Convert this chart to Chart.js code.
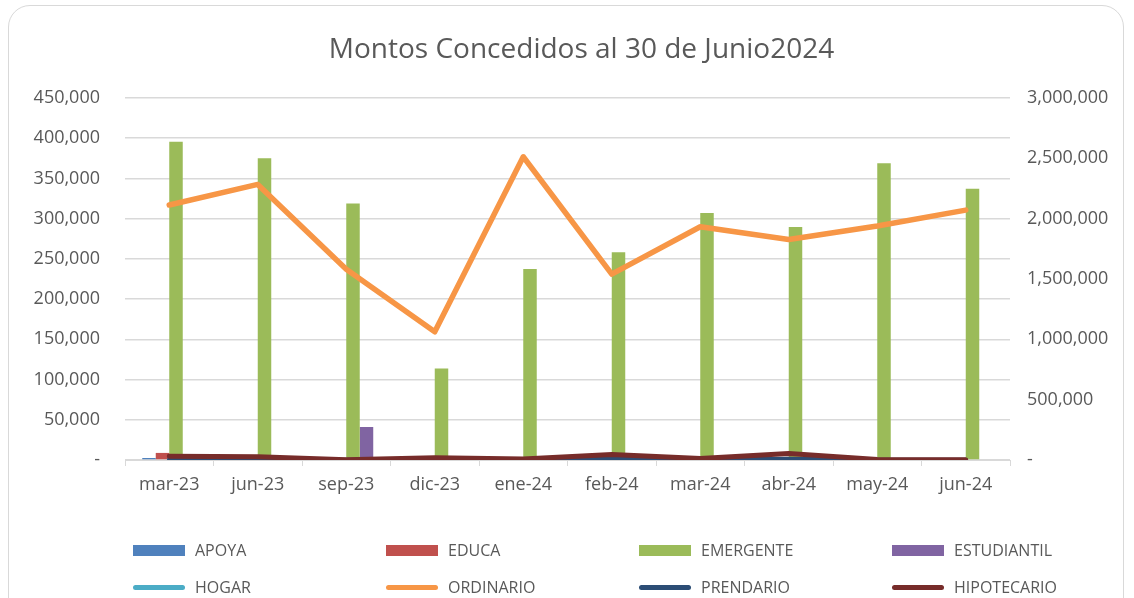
<!DOCTYPE html>
<html>
<head>
<meta charset="utf-8">
<script src="https://cdn.jsdelivr.net/npm/chart.js@4"></script>
<style>
  html, body { margin: 0; padding: 0; background: #fff; }
  body { width: 1134px; height: 598px; overflow: hidden; position: relative; font-family: "Open Sans", sans-serif; }
  #frame { position: absolute; left: 8px; top: 5px; width: 1116px; height: 640px; border: 1px solid #d9d9d9; border-radius: 22px; box-sizing: border-box; }
  #wrap { position: absolute; left: 0; top: 0; width: 1134px; height: 598px; }
  #legend { position: absolute; left: 133px; top: 540px; width: 1000px; display: grid; grid-template-columns: repeat(4, 253px); row-gap: 17px; }
  .item { display: flex; align-items: center; height: 20px; font-size: 16px; color: #595959; }
  .swatch { width: 52px; margin-right: 10px; }
</style>
</head>
<body>
<div id="frame"></div>
<div id="wrap"><canvas id="chart1" width="1134" height="598"></canvas></div>
<div id="legend"></div>
<script>
// Montos concedidos por tipo de préstamo
const categories = ["mar-23", "jun-23", "sep-23", "dic-23", "ene-24", "feb-24", "mar-24", "abr-24", "may-24", "jun-24"];

// bars, left axis
const apoya = [2500, 0, 0, 0, 0, 0, 0, 0, 0, 0];
const educa = [8800, 0, 0, 0, 0, 0, 0, 0, 0, 0];
const emergente = [395600, 375000, 319000, 113800, 237300, 258100, 307000, 289500, 368800, 337200];
const estudiantil = [0, 0, 41000, 0, 0, 0, 0, 0, 0, 0];

// lines, right axis
const hogar = [0, 0, 0, 0, 0, 0, 0, 0, 0, 0];
const ordinario = [2113000, 2284000, 1580000, 1062000, 2513000, 1541000, 1933000, 1828000, 1939000, 2071000];
const prendario = [3000, 2000, 1000, 4000, 1000, 8000, 2000, 9000, 1000, 1000];
const hipotecario = [31500, 26000, 2500, 19000, 8000, 46500, 12000, 54000, 5000, 2500];

const grey = "#595959";
const gridGrey = "#d9d9d9";
const font = "'Open Sans', sans-serif";

function fmt(v) {
    return v === 0 ? "-" : v.toLocaleString("en-US");
}

function barSet(label, data, color) {
    return { type: "bar", label: label, data: data, backgroundColor: color, yAxisID: "y", order: 4 };
}

function lineSet(label, data, color, width, order) {
    return {
        type: "line", label: label, data: data, borderColor: color, backgroundColor: color,
        borderWidth: width, pointRadius: 0, pointHoverRadius: 0, yAxisID: "y1", order: order,
        borderCapStyle: "round", borderJoinStyle: "round", tension: 0
    };
}

const chart = new Chart(document.getElementById("chart1"), {
    data: {
        labels: categories,
        datasets: [
            barSet("APOYA", apoya, "#4f81bd"),
            barSet("EDUCA", educa, "#c0504d"),
            barSet("EMERGENTE", emergente, "#9bbb59"),
            barSet("ESTUDIANTIL", estudiantil, "#8064a2"),
            lineSet("HOGAR", hogar, "#4bacc6", 4, 3),
            lineSet("ORDINARIO", ordinario, "#f79646", 5.5, 2),
            lineSet("PRENDARIO", prendario, "#2c4d75", 4.5, 1),
            lineSet("HIPOTECARIO", hipotecario, "#772c2a", 5, 0)
        ]
    },
    options: {
        responsive: false,
        animation: false,
        events: [],
        // left padding shifts the title centre to the right, the axis width makes up for it
        layout: { padding: { left: 29, right: 0, top: 0, bottom: 98 } },
        datasets: {
            bar: { categoryPercentage: 0.61, barPercentage: 1 }
        },
        plugins: {
            legend: { display: false },
            tooltip: { enabled: false },
            title: {
                display: true,
                text: "Montos Concedidos al 30 de Junio2024",
                color: grey,
                font: { family: font, size: 28, weight: "normal" },
                padding: { top: 33, bottom: 31.4 }
            }
        },
        scales: {
            x: {
                grid: { drawOnChartArea: false, drawTicks: true, tickLength: 6, color: gridGrey, offset: true },
                border: { display: true, color: gridGrey, width: 1 },
                ticks: { color: grey, font: { family: font, size: 18 }, padding: 8, maxRotation: 0 },
                afterFit: function (s) { s.height = 40; }
            },
            y: {
                position: "left",
                min: 0, max: 450000,
                grid: { color: gridGrey, lineWidth: 1.5, drawTicks: false },
                border: { display: false },
                ticks: { stepSize: 50000, color: grey, font: { family: font, size: 18 }, padding: 25, callback: fmt },
                afterFit: function (s) { s.width = 96; }
            },
            y1: {
                position: "right",
                min: 0, max: 3000000,
                grid: { drawOnChartArea: false, drawTicks: false },
                border: { display: false },
                ticks: { stepSize: 500000, color: grey, font: { family: font, size: 18 }, padding: 17, callback: fmt },
                afterFit: function (s) { s.width = 124; }
            }
        }
    }
});

// legend in a 4-column grid, like the spreadsheet
const legend = document.getElementById("legend");
chart.data.datasets.forEach(function (ds) {
    const item = document.createElement("div");
    item.className = "item";
    const sw = document.createElement("span");
    sw.className = "swatch";
    if (ds.type === "bar") {
        sw.style.height = "11px";
        sw.style.background = ds.backgroundColor;
    } else {
        sw.style.height = "5px";
        sw.style.borderRadius = "3px";
        sw.style.background = ds.borderColor;
    }
    item.appendChild(sw);
    item.appendChild(document.createTextNode(ds.label));
    legend.appendChild(item);
});
</script>
</body>
</html>
